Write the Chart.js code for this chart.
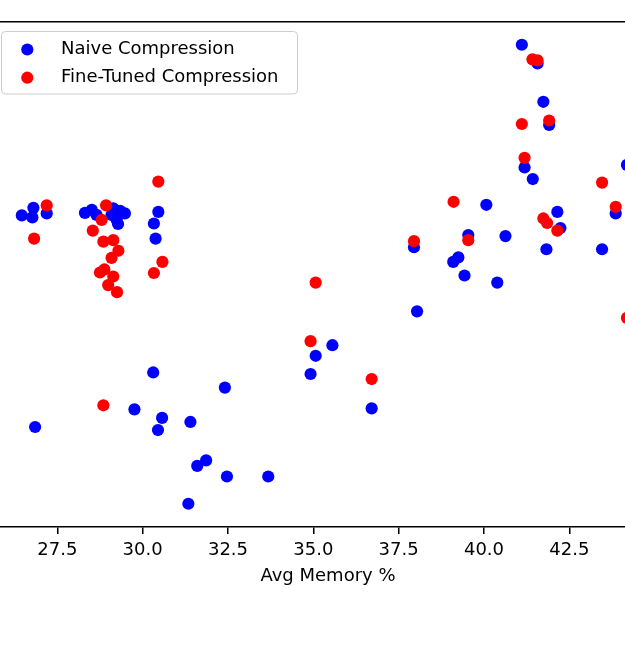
<!DOCTYPE html>
<html>
<head>
<meta charset="utf-8">
<script src="https://cdn.jsdelivr.net/npm/chart.js"></script>
<style>
  html, body { margin: 0; padding: 0; background: #fff; }
  #marco { position: relative; width: 625px; height: 653px; overflow: hidden; }
  #grafico { position: absolute; left: -20px; top: 0; }
</style>
</head>
<body>
<div id="marco">
  <canvas id="grafico" width="700" height="653"></canvas>
</div>
<script>
// datos (eje y sin etiquetas, escala relativa 0-100)
const naiveX = [26.46, 26.80, 26.77, 27.19, 26.85, 28.31, 28.51, 28.65, 29.09, 29.14, 29.34, 29.48, 29.24, 29.28,
  30.46, 30.33, 30.38, 30.31, 32.41, 29.76, 30.57, 30.45, 31.40, 31.86, 31.60, 32.47, 33.68, 31.34,
  35.07, 34.92, 35.56, 36.71, 37.95, 38.04, 39.10, 39.25, 39.43, 39.54, 40.07, 40.39, 40.63,
  41.11, 41.57, 41.74, 41.91, 41.19, 41.43, 42.15, 42.24, 41.83, 43.46, 43.86, 44.19];
const naiveY = [61.7, 63.2, 61.3, 62.1, 19.8, 62.2, 62.8, 61.8, 61.8, 63.1, 62.6, 62.1, 60.8, 60.0,
  62.4, 60.1, 57.1, 30.6, 27.6, 23.3, 21.6, 19.2, 20.8, 13.2, 12.1, 10.0, 10.0, 4.6,
  33.9, 30.3, 36.0, 23.5, 55.4, 42.7, 52.5, 53.4, 49.8, 57.8, 63.8, 48.4, 57.6,
  95.5, 91.8, 84.2, 79.6, 71.2, 68.9, 62.4, 59.2, 55.0, 55.0, 62.1, 71.7];

const fineX = [27.19, 26.82, 28.93, 28.80, 28.54, 28.85, 29.14, 29.29, 29.09, 28.88, 28.75, 29.14, 28.99, 29.25,
  30.46, 30.58, 30.33, 28.85, 34.92, 35.07, 36.71, 37.95, 39.11, 39.54,
  41.42, 41.57, 41.11, 41.91, 41.19, 41.74, 41.85, 42.15, 43.46, 43.86, 44.19];
const fineY = [63.7, 57.1, 63.7, 60.8, 58.7, 56.5, 56.8, 54.7, 53.3, 51.0, 50.4, 49.6, 47.9, 46.5,
  68.4, 52.5, 50.3, 24.1, 36.8, 48.4, 29.3, 56.6, 64.4, 56.8,
  92.6, 92.4, 79.8, 80.5, 73.1, 61.1, 60.2, 58.7, 68.2, 63.4, 41.4];

const xTicks = [27.5, 30.0, 32.5, 35.0, 37.5, 40.0, 42.5];
const series = ['Naive Compression', 'Fine-Tuned Compression'];
const colores = ['#0000ff', '#ff0000'];

const xMin = 25.5869;
const xMax = 45.2746;
const fuente = 'DejaVu Sans';

// leyenda dentro del area, como matplotlib (upper left)
const leyendaPlugin = {
  id: 'leyenda',
  afterDraw(chart) {
    const ctx = chart.ctx;
    ctx.save();
    ctx.beginPath();
    ctx.roundRect(21.5, 31.5, 296, 62.5, 4);
    ctx.fillStyle = 'rgba(255,255,255,0.8)';
    ctx.fill();
    ctx.strokeStyle = '#cccccc';
    ctx.lineWidth = 1;
    ctx.stroke();
    const filas = [49.5, 77.7];
    chart.data.datasets.forEach((ds, i) => {
      ctx.beginPath();
      ctx.arc(47.3, filas[i], 6.1, 0, Math.PI * 2);
      ctx.fillStyle = ds.backgroundColor;
      ctx.fill();
      ctx.fillStyle = '#000';
      ctx.font = '18px "' + fuente + '"';
      ctx.textBaseline = 'middle';
      ctx.textAlign = 'left';
      ctx.fillText(ds.label, 81, filas[i]);
    });
    ctx.restore();
  }
};

const ctx = document.querySelector('#grafico').getContext('2d');

const config = {
  type: 'scatter',
  data: {
    datasets: [{
      label: series[0],
      data: naiveX.map((x, i) => ({ x: x, y: naiveY[i] })),
      backgroundColor: colores[0],
      borderWidth: 0,
      pointRadius: 6.1,
      pointHoverRadius: 6.1,
      order: 1
    }, {
      label: series[1],
      data: fineX.map((x, i) => ({ x: x, y: fineY[i] })),
      backgroundColor: colores[1],
      borderWidth: 0,
      pointRadius: 6.1,
      pointHoverRadius: 6.1,
      order: 0
    }]
  },
  options: {
    responsive: false,
    animation: false,
    devicePixelRatio: 1,
    layout: { padding: { top: 22, left: 12, right: 16, bottom: 62.2 } },
    plugins: {
      legend: { display: false },
      tooltip: { enabled: false }
    },
    scales: {
      x: {
        type: 'linear',
        position: 'bottom',
        min: xMin,
        max: xMax,
        afterBuildTicks: (scale) => {
          scale.ticks = xTicks.map(v => ({ value: v }));
        },
        afterFit: (scale) => {
          scale.height = 63.8;
        },
        ticks: {
          color: '#000',
          padding: 6,
          font: { family: fuente, size: 18 },
          callback: (v) => Number(v).toFixed(1)
        },
        grid: {
          drawOnChartArea: false,
          drawTicks: true,
          tickLength: 7,
          color: '#000',
          lineWidth: 1.5
        },
        border: { display: true, color: '#000', width: 1.5 },
        title: {
          display: true,
          text: 'Avg Memory %',
          color: '#000',
          font: { family: fuente, size: 18 },
          padding: { top: 4, bottom: 4 }
        }
      },
      x2: {
        type: 'linear',
        position: 'top',
        min: xMin,
        max: xMax,
        ticks: { display: false },
        grid: { display: false, drawTicks: false },
        border: { display: true, color: '#000', width: 1.5 },
        afterFit: (scale) => {
          scale.height = 0;
        }
      },
      y: {
        display: false,
        min: 0,
        max: 100
      }
    }
  },
  plugins: [leyendaPlugin]
};

const grafico = new Chart(ctx, config);
</script>
</body>
</html>
